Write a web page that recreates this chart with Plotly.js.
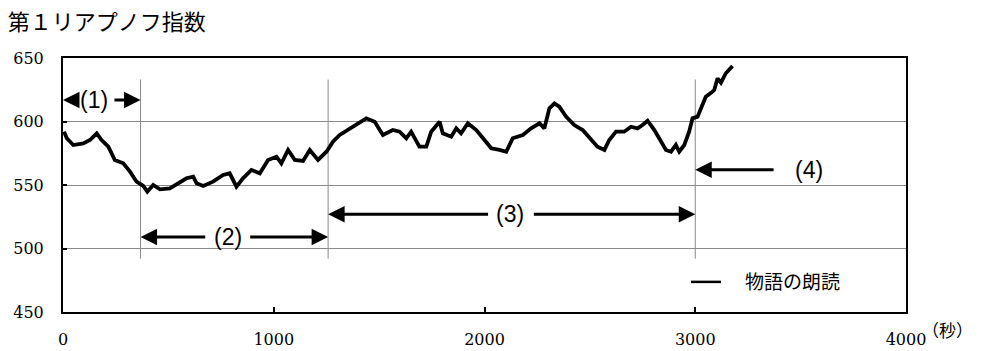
<!DOCTYPE html>
<html>
<head>
<meta charset="utf-8">
<script src="https://cdn.plot.ly/plotly-3.0.1.min.js"></script>
<style>html,body{margin:0;padding:0;background:#fff;}#chart{width:981px;height:351px;}</style>
</head>
<body>
<div id="chart"></div>
<script>
// Time (seconds) and first Lyapunov exponent values
const timeSec = [5, 18, 49, 96, 128, 160, 183, 215, 246, 286, 318, 349, 381, 400, 428, 460, 507, 554, 586, 618, 634, 665, 712, 760, 791, 823, 854, 894, 934, 973, 1013, 1036, 1068, 1100, 1139, 1171, 1210, 1250, 1281, 1313, 1352, 1392, 1439, 1479, 1518, 1565, 1597, 1629, 1652, 1691, 1724, 1747, 1787, 1802, 1842, 1866, 1889, 1921, 1961, 2000, 2032, 2071, 2103, 2134, 2182, 2221, 2261, 2284, 2308, 2332, 2355, 2387, 2426, 2466, 2505, 2536, 2569, 2592, 2624, 2663, 2695, 2726, 2750, 2774, 2806, 2829, 2861, 2885, 2908, 2924, 2948, 2971, 2987, 3011, 3034, 3050, 3082, 3090, 3106, 3122, 3145, 3177];
const lyapunov = [592, 586.8, 581.5, 582.8, 585.4, 590.7, 585.4, 580.2, 569.7, 567.1, 560.5, 552.6, 549.2, 544.7, 550, 546.6, 547.4, 552.6, 555.3, 556.6, 551.3, 549.2, 552.6, 557.9, 559.2, 548.7, 555.3, 561.8, 559.2, 569.7, 572.3, 567.1, 577.6, 569.7, 568.9, 577.6, 569.7, 576.2, 584.1, 589.4, 593.3, 598.0, 602.5, 599.8, 589.4, 593.3, 592, 586.8, 592, 580.2, 580.2, 592, 599.8, 590.7, 588, 594.6, 590.7, 598.6, 593.3, 585.4, 578.9, 577.6, 576.2, 586.8, 589.4, 594.6, 598.6, 594.6, 610.4, 614.3, 611.7, 603.8, 597.2, 593.3, 585.4, 580.2, 577.6, 585.4, 592, 592, 595.9, 594.6, 597.2, 600.6, 593.3, 586.8, 577.6, 576.2, 581.5, 576.2, 581.5, 592, 602.5, 603.8, 613, 619.5, 623.5, 624.8, 634, 630.6, 638, 643.7];

const seriesName = '物語の朗読';
const xTickVals = [0, 1000, 2000, 3000, 4000];
const yTickVals = [450, 500, 550, 600, 650];

// Phase boundaries (seconds) and the phase arrows
const phaseBounds = [368, 1258, 3000];
const phaseLineY = [492, 633];
const phaseLabels = ['(1)', '(2)', '(3)', '(4)'];
const labelX = [147, 782, 2123, 3540];
const labelY = [617, 509, 527, 562];
// [headX, tailX, labelIndex] for each arrow segment
const arrowSegs = [
  [0, 62, 0], [368, 237, 0],
  [368, 682, 1], [1258, 881, 1],
  [1258, 2024, 2], [3000, 2227, 2],
  [3000, 3379, 3]
];

const serif = "'DejaVu Serif', 'Liberation Serif', serif";

const traces = [
  {x: timeSec, y: lyapunov, type: 'scatter', mode: 'lines', name: seriesName,
   line: {color: '#000', width: 3.8}, showlegend: false, hoverinfo: 'skip'},
  {x: [null], y: [null], type: 'scatter', mode: 'lines', name: '\u3000' + seriesName,
   line: {color: '#000', width: 2.5}, showlegend: true}
];

const shapes = phaseBounds.map(b => ({
  type: 'line', xref: 'x', yref: 'y', x0: b, x1: b, y0: phaseLineY[0], y1: phaseLineY[1],
  line: {color: '#888', width: 1}, layer: 'below'
}));

const annotations = [];
phaseLabels.forEach((t, i) => {
  annotations.push({x: labelX[i], y: labelY[i], xref: 'x', yref: 'y', text: t, showarrow: false,
    font: {family: "'Liberation Sans', Arial, sans-serif", size: 23, color: '#000'}});
});
arrowSegs.forEach(s => {
  const yy = labelY[s[2]];
  annotations.push({x: s[0], y: yy, xref: 'x', yref: 'y', ax: s[1], ay: yy, axref: 'x', ayref: 'y',
    text: '', showarrow: true, arrowhead: 2, arrowsize: 1.1, arrowwidth: 3, arrowcolor: '#000', standoff: 0, startstandoff: 0});
});
annotations.push({xref: 'paper', yref: 'paper', x: 1.017, y: -0.012, xanchor: 'left', yanchor: 'top',
  text: '（秒）', showarrow: false, font: {family: "'Noto Sans CJK JP'", size: 17, color: '#000'}});

const layout = {
  width: 981, height: 351,
  margin: {l: 63, r: 75, t: 58, b: 39, pad: 0},
  paper_bgcolor: '#fff', plot_bgcolor: '#fff',
  title: {text: '第１リアプノフ指数', xref: 'container', yref: 'container', x: 0.008, xanchor: 'left',
          y: 0.937, yanchor: 'middle', font: {family: "'Noto Sans CJK JP'", size: 22, color: '#000'}},
  xaxis: {range: [0, 4000], tickvals: xTickVals, ticktext: xTickVals.map(String),
          showgrid: false, zeroline: false, showline: true, mirror: true, linecolor: '#000', linewidth: 2,
          ticks: 'inside', ticklen: 5, tickwidth: 2, tickcolor: '#000', ticklabelstandoff: 12,
          tickfont: {family: serif, size: 16, color: '#000'}, fixedrange: true},
  yaxis: {range: [450, 650], tickvals: yTickVals, ticktext: yTickVals.map(String),
          showgrid: true, gridcolor: '#8a8a8a', gridwidth: 1, zeroline: false,
          showline: true, mirror: true, linecolor: '#000', linewidth: 2,
          ticks: 'inside', ticklen: 4, tickwidth: 2, tickcolor: '#000', ticklabelstandoff: 14,
          tickfont: {family: serif, size: 16, color: '#000'}, fixedrange: true},
  showlegend: true,
  legend: {x: 0.739, y: 0.118, xanchor: 'left', yanchor: 'middle', bgcolor: 'rgba(0,0,0,0)',
           borderwidth: 0, font: {family: "'Noto Sans CJK JP'", size: 19, color: '#000'}},
  shapes: shapes,
  annotations: annotations
};

Plotly.newPlot('chart', traces, layout, {staticPlot: true, displayModeBar: false});
</script>
</body>
</html>
